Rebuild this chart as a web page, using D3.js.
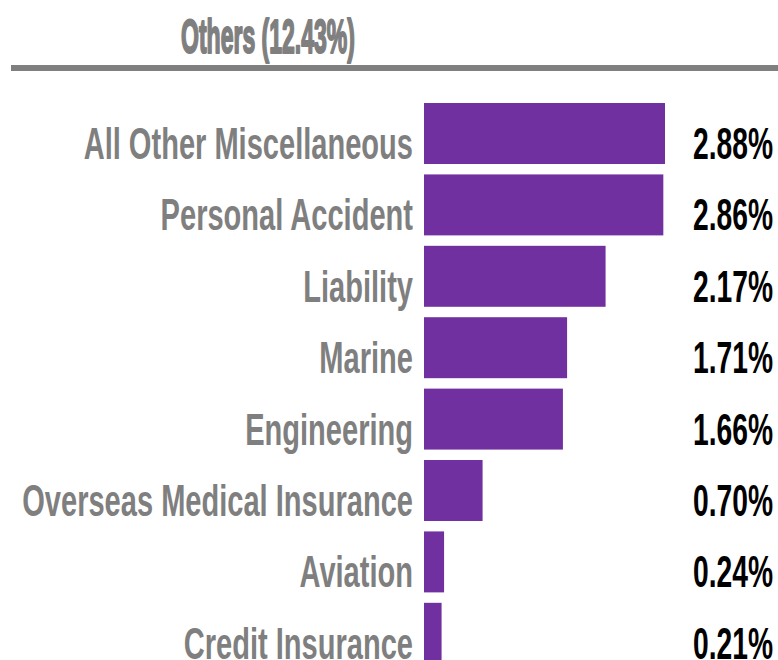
<!DOCTYPE html>
<html>
<head>
<meta charset="utf-8">
<script src="https://cdn.jsdelivr.net/npm/d3@7"></script>
<style>
  html, body { margin: 0; padding: 0; background: #fff; }
  svg { display: block; }
</style>
</head>
<body>
<div id="chart"></div>
<script>
// ---- data ----
const TITLE = 'Others (12.43%)';
const CATEGORIES = [
  'All Other Miscellaneous', 'Personal Accident', 'Liability', 'Marine',
  'Engineering', 'Overseas Medical Insurance', 'Aviation', 'Credit Insurance'
];
const SHARES = [2.88, 2.86, 2.17, 1.71, 1.66, 0.70, 0.24, 0.21];
const SHARE_LABELS = ['2.88%', '2.86%', '2.17%', '1.71%', '1.66%', '0.70%', '0.24%', '0.21%'];

const W = 778, H = 660;
const FONT = '"Liberation Sans Narrow", "Arial Narrow", "Liberation Sans", Arial, sans-serif';
const GREY = '#7f7f7f';
const BAR = '#7030a0';

const rows = CATEGORIES.map((c, i) => ({ cat: c, v: SHARES[i], lbl: SHARE_LABELS[i] }));

const svg = d3.select('#chart').append('svg')
  .attr('width', W).attr('height', H)
  .attr('viewBox', `0 0 ${W} ${H}`);

const x = d3.scaleLinear().domain([0, 2.88]).range([424, 665]);
const y = d3.scaleBand().domain(CATEGORIES)
  .range([97.8, 669])
  .paddingInner(0.146).paddingOuter(0.073);

// the source renders its text tall and narrow: measure, then squeeze to width
function squeezeFactor(g, sample, targetW) {
  const probe = g.append('text').text(sample);
  const w = probe.node().getComputedTextLength();
  probe.remove();
  return targetW / w;
}

// title + rule
const titleG = svg.append('g')
  .attr('font-family', FONT).attr('font-weight', 700)
  .attr('font-size', 49).attr('fill', GREY);
const sxTitle = squeezeFactor(titleG, TITLE, 174);
titleG.append('text')
  .attr('text-anchor', 'middle')
  .attr('stroke', GREY).attr('stroke-width', 2.2)
  .attr('stroke-linejoin', 'round')
  .attr('transform', `translate(268,53) scale(${sxTitle},1)`)
  .text(TITLE);

svg.append('line')
  .attr('x1', 11).attr('x2', W)
  .attr('y1', 68).attr('y2', 68)
  .attr('stroke', GREY).attr('stroke-width', 6);

// bars
svg.append('g').selectAll('rect').data(rows).join('rect')
  .attr('x', x(0))
  .attr('y', d => y(d.cat))
  .attr('width', d => x(d.v) - x(0))
  .attr('height', y.bandwidth())
  .attr('fill', BAR);

// category labels
const labG = svg.append('g')
  .attr('font-family', FONT).attr('font-weight', 700)
  .attr('font-size', 44).attr('fill', GREY);
const sxLab = squeezeFactor(labG, 'Overseas Medical Insurance', 391);

labG.selectAll('text').data(rows).join('text')
  .attr('text-anchor', 'end')
  .attr('transform', d => `translate(413,${y(d.cat) + y.bandwidth() / 2 + 25.5}) scale(${sxLab},1)`)
  .text(d => d.cat);

// value labels
const valG = svg.append('g')
  .attr('font-family', FONT).attr('font-weight', 700)
  .attr('font-size', 44).attr('fill', '#000');
const sxVal = squeezeFactor(valG, '2.88%', 80);

valG.selectAll('text').data(rows).join('text')
  .attr('text-anchor', 'end')
  .attr('transform', d => `translate(773,${y(d.cat) + y.bandwidth() / 2 + 25.5}) scale(${sxVal},1)`)
  .text(d => d.lbl);
</script>
</body>
</html>
